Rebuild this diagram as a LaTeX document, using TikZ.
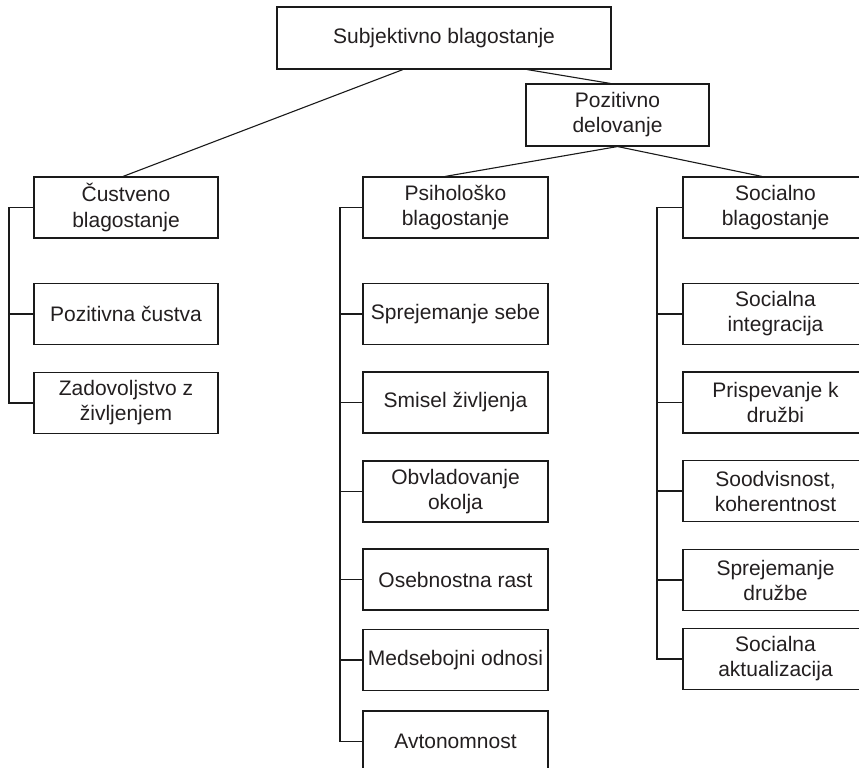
\documentclass[tikz,border=0pt]{standalone}
\usepackage{fontspec}
\setmainfont{Liberation Sans}
\definecolor{txt}{HTML}{231F20}
\definecolor{ln}{HTML}{1A1A1A}
\begin{document}
\begin{tikzpicture}[x=1pt,y=-1pt,
  box/.style={draw=ln, line width=1.1pt, inner sep=0pt, minimum width=185pt, minimum height=61pt,
    align=center, text=txt, font=\fontsize{21}{25}\selectfont},
  conn/.style={draw=ln, line width=1.1pt}]
\useasboundingbox (0,0) rectangle (859,768);
\clip (0,0) rectangle (859,768);
\fill[white] (0,0) rectangle (859,768);
% top levels
\node[box, minimum width=334pt, minimum height=62pt] (top) at (444,38) {Subjektivno blagostanje};
\node[box, minimum width=183pt, minimum height=62pt] (poz) at (617.5,115) {Pozitivno\\delovanje};
% left column
\node[box, minimum width=184pt] (cust) at (126,207.5) {Čustveno\\blagostanje};
\node[box, minimum width=184pt] (poscust) at (126,314) {Pozitivna čustva};
\node[box, minimum width=184pt] (zad) at (126,403) {Zadovoljstvo z\\življenjem};
% middle column
\node[box] (psih) at (455.5,207.5) {Psihološko\\blagostanje};
\node[box] (sprs) at (455.5,314) {Sprejemanje sebe};
\node[box] (smis) at (455.5,402.5) {Smisel življenja};
\node[box] (obvl) at (455.5,491.5) {Obvladovanje\\okolja};
\node[box] (oseb) at (455.5,579.5) {Osebnostna rast};
\node[box] (meds) at (455.5,660) {Medsebojni odnosi};
\node[box] (avto) at (455.5,741.5) {Avtonomnost};
% right column
\node[box] (soc) at (775.5,207.5) {Socialno\\blagostanje};
\node[box] (sint) at (775.5,314) {Socialna\\integracija};
\node[box] (pris) at (775.5,402.5) {Prispevanje k\\družbi};
\node[box] (sood) at (775.5,491) {Soodvisnost,\\koherentnost};
\node[box] (sprd) at (775.5,580) {Sprejemanje\\družbe};
\node[box] (sakt) at (775.5,659) {Socialna\\aktualizacija};
% tree connectors
\draw[conn] ([xshift=-41pt]top.south) -- ([xshift=-3pt]cust.north);
\draw[conn] ([xshift=83pt]top.south) -- ([xshift=-7pt]poz.north);
\draw[conn] (poz.south) -- ([xshift=-10.5pt]psih.north);
\draw[conn] (poz.south) -- ([xshift=-13.5pt]soc.north);
% bracket coordinates
\coordinate (cl) at (9,0);
\coordinate (cm) at (340,0);
\coordinate (cr) at (657,0);
% left bracket
\draw[conn] (cust.west) -- (cust.west -| cl) |- (zad.west);
\draw[conn] (poscust.west) -- (poscust.west -| cl);
% middle bracket
\draw[conn] (psih.west) -- (psih.west -| cm) |- (avto.west);
\foreach \n in {sprs,smis,obvl,oseb,meds}
  \draw[conn] (\n.west) -- (\n.west -| cm);
% right bracket
\draw[conn] (soc.west) -- (soc.west -| cr) |- (sakt.west);
\foreach \n in {sint,pris,sood,sprd}
  \draw[conn] (\n.west) -- (\n.west -| cr);
\end{tikzpicture}
\end{document}
